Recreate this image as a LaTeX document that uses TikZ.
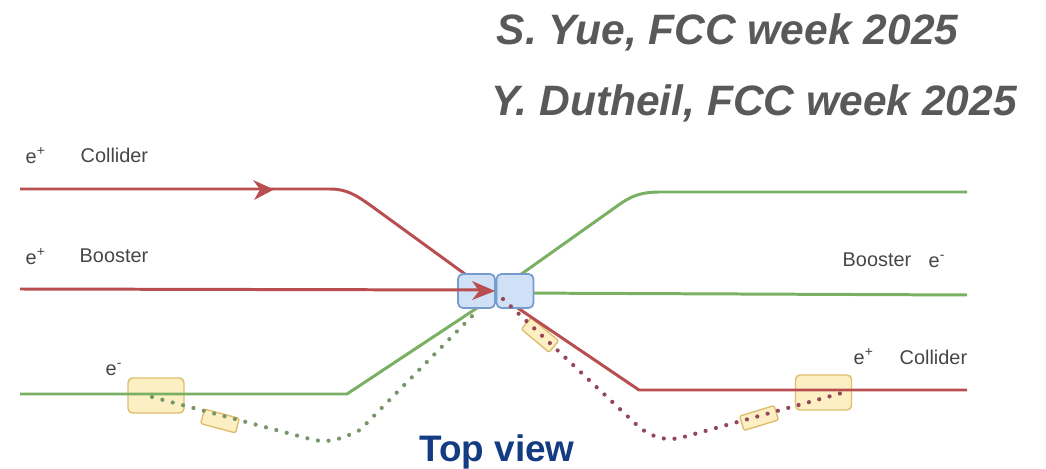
\documentclass[tikz,border=0pt]{standalone}
\usepackage{fontspec}
\setmainfont{Liberation Sans}
\usepackage{tikz}
\usetikzlibrary{arrows.meta}

\definecolor{posred}{RGB}{184,78,80}
\definecolor{elegreen}{RGB}{122,176,98}
\definecolor{dotgreen}{RGB}{120,150,105}
\definecolor{dotred}{RGB}{150,70,90}
\definecolor{quadblue}{RGB}{208,224,246}
\definecolor{quadedge}{RGB}{120,155,205}
\definecolor{kickyellow}{RGB}{253,239,196}
\definecolor{kickedge}{RGB}{222,190,110}
\definecolor{labelgrey}{RGB}{70,70,70}
\definecolor{citegrey}{RGB}{89,89,89}
\definecolor{viewblue}{RGB}{20,60,130}

\tikzset{
    redline/.style={posred, line width=0.85pt, line join=round},
    greenline/.style={elegreen, line width=0.85pt, line join=round},
    reddots/.style={dotred, line width=1.2pt, line cap=round, dash pattern=on 0pt off 3.05pt},
    greendots/.style={dotgreen, line width=1.2pt, line cap=round, dash pattern=on 0pt off 3.05pt},
    quadbox/.style={draw=quadedge, fill=quadblue, line width=0.5pt, rounded corners=1.4pt, minimum width=0.37cm, minimum height=0.34cm, inner sep=0pt},
    kickbox/.style={draw=kickedge, fill=kickyellow, line width=0.4pt, inner sep=0pt},
    bigbox/.style={kickbox, rounded corners=1.3pt, minimum width=0.56cm, minimum height=0.35cm},
    smallbox/.style={kickbox, rounded corners=0.4pt, minimum width=0.36cm, minimum height=0.15cm},
    smalltext/.style={labelgrey, font=\fontsize{5.66}{7}\selectfont, inner sep=0pt, anchor=base west},
    cite/.style={citegrey, font=\fontsize{12.1}{14}\selectfont\bfseries\itshape, inner sep=0pt}
}

\begin{document}
\begin{tikzpicture}
    \useasboundingbox (0,0) rectangle (10.46,4.68);

    % Yellow boxes, under the lines
    \node[bigbox] (kickL) at (1.56,0.725) {};
    \node[bigbox] (kickR) at (8.235,0.755) {};
    \node[smallbox, rotate=-15] (septL) at (2.2,0.47) {};
    \node[smallbox, rotate=17] (septR) at (7.59,0.5) {};
    \node[smallbox, rotate=-40] (septC) at (5.4,1.33) {};

    % End points of the beam lines
    \coordinate (colInL) at (0.2,2.79);
    \coordinate (booInL) at (0.2,1.79);
    \coordinate (eleInL) at (0.2,0.74);
    \coordinate (colOutR) at (9.67,0.78);
    \coordinate (booOutR) at (9.67,1.73);
    \coordinate (eleOutR) at (9.67,2.76);

    % Collider and booster lines
    \draw[redline] (colInL) -- (3.3,2.79) to[out=0, in=145] (3.7,2.63) -- (4.8,1.83);
    \draw[redline] (5.0,1.72) -- (6.39,0.78) -- (colOutR);
    \draw[greenline] (eleOutR) -- (6.6,2.76) to[out=180, in=35] (6.2,2.64) -- (5.2,1.93);
    \draw[greenline] (eleInL) -- (3.47,0.74) -- (4.8,1.62);
    \draw[greenline] (5.1,1.75) -- (booOutR);

    % Final focus quadrupoles
    \node[quadbox] (quadL) at (4.765,1.77) {};
    \node[quadbox] (quadR) at (5.15,1.77) {};
    \draw[redline] (booInL) -- (4.85,1.78);

    % Arrow heads
    \fill[posred] (2.53,2.88) -- (2.74,2.785) -- (2.54,2.68) -- (2.6,2.785) -- cycle;
    \fill[posred] (4.72,1.87) -- (4.95,1.77) -- (4.72,1.68) -- (4.79,1.77) -- cycle;

    % Dotted injection paths
    \draw[greendots] (1.52,0.71) -- (3.1,0.29) to[out=-15, in=205] (3.6,0.38) -- (4.77,1.57);
    \draw[reddots] (5.03,1.69) -- (6.4,0.4) to[out=-35, in=190] (6.8,0.3) -- (7.95,0.62) -- (8.49,0.77);

    % Labels
    \node[smalltext] (ePlusA) at (0.25,3.04) {e\textsuperscript{+}};
    \node[smalltext] (colliderA) at (0.8,3.05) {Collider};
    \node[smalltext] (ePlusB) at (0.25,2.03) {e\textsuperscript{+}};
    \node[smalltext] (boosterA) at (0.79,2.05) {Booster};
    \node[smalltext] (eMinusA) at (1.05,0.92) {e\textsuperscript{-}};
    \node[smalltext] (boosterB) at (8.42,2.01) {Booster};
    \node[smalltext] (eMinusB) at (9.28,2.0) {e\textsuperscript{-}};
    \node[smalltext] (ePlusC) at (8.53,1.03) {e\textsuperscript{+}};
    \node[smalltext] (colliderB) at (8.99,1.04) {Collider};

    % Citations and view title
    \node[cite] (citeA) at (7.275,4.36) {S. Yue, FCC week 2025};
    \node[cite] (citeB) at (7.54,3.65) {Y. Dutheil, FCC week 2025};
    \node[viewblue, font=\fontsize{10.5}{12}\selectfont\bfseries, inner sep=0pt] (topview) at (4.97,0.16) {Top view};
\end{tikzpicture}
\end{document}
